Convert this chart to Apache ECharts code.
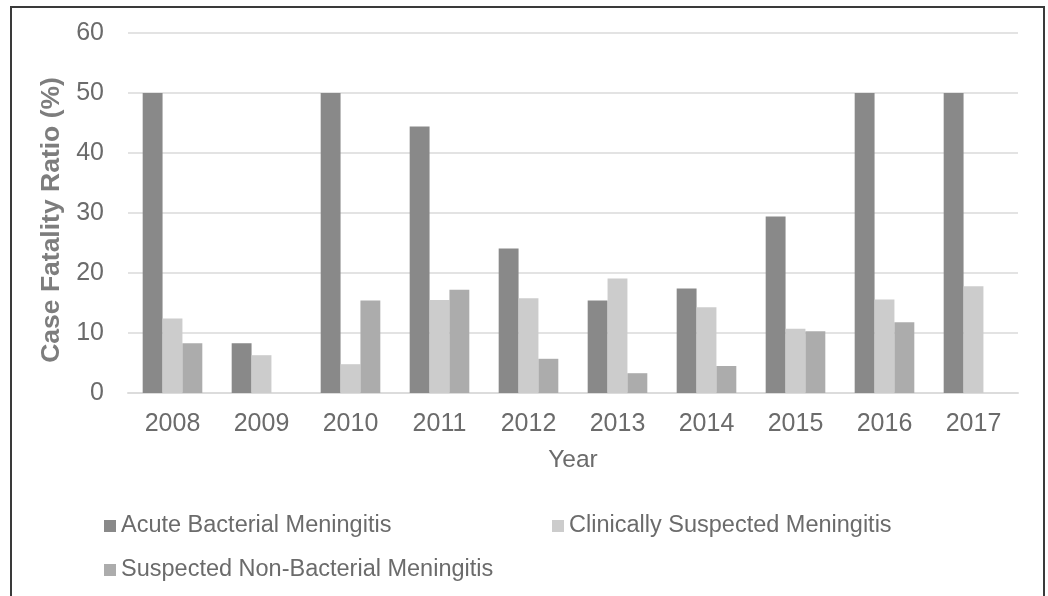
<!DOCTYPE html>
<html>
<head>
<meta charset="utf-8">
<script src="https://cdn.jsdelivr.net/npm/echarts@6/dist/echarts.min.js"></script>
<style>
  html, body { margin: 0; padding: 0; background: #ffffff; }
  #chart { width: 1048px; height: 596px; }
</style>
</head>
<body>
<div id="chart"></div>
<script>
// Case fatality ratio (%) by year and meningitis category
const years = ['2008', '2009', '2010', '2011', '2012', '2013', '2014', '2015', '2016', '2017'];
const acuteBacterial = [50, 8.3, 50, 44.4, 24.1, 15.4, 17.4, 29.4, 50, 50];
const clinicallySuspected = [12.4, 6.3, 4.8, 15.5, 15.8, 19.1, 14.3, 10.7, 15.6, 17.8];
const suspectedNonBacterial = [8.3, null, 15.4, 17.2, 5.7, 3.3, 4.5, 10.3, 11.8, null];
const seriesNames = ['Acute Bacterial Meningitis', 'Clinically Suspected Meningitis', 'Suspected Non-Bacterial Meningitis'];
const yTicks = { min: 0, max: 60, step: 10 };

const textColor = '#6b6b6b';
const font = 'Liberation Sans, Arial, sans-serif';

const chart = echarts.init(document.getElementById('chart'), null, { renderer: 'canvas' });

const legendBase = {
  icon: 'rect',
  padding: 0,
  itemWidth: 12,
  itemHeight: 12,
  itemGap: 0,
  textStyle: { color: textColor, fontSize: 23.5, fontFamily: font },
  selectedMode: false
};

chart.setOption({
  animation: false,
  backgroundColor: '#ffffff',
  color: ['#898989', '#cccccc', '#acacac'],
  grid: { left: 128, right: 30, top: 33, bottom: 203 },
  legend: [
    Object.assign({}, legendBase, { data: [seriesNames[0]], left: 104, top: 514 }),
    Object.assign({}, legendBase, { data: [seriesNames[1]], left: 552, top: 514 }),
    Object.assign({}, legendBase, { data: [seriesNames[2]], left: 104, top: 558 })
  ],
  xAxis: {
    type: 'category',
    data: years,
    name: 'Year',
    nameLocation: 'middle',
    nameGap: 55,
    nameTextStyle: { color: textColor, fontSize: 24.5, fontFamily: font },
    axisLine: { show: true, lineStyle: { color: '#dcdcdc', width: 2 } },
    axisTick: { show: false },
    axisLabel: { color: textColor, fontSize: 25, fontFamily: font, margin: 19 }
  },
  yAxis: {
    type: 'value',
    min: yTicks.min,
    max: yTicks.max,
    interval: yTicks.step,
    name: 'Case Fatality Ratio (%)',
    nameLocation: 'middle',
    nameGap: 62,
    nameTextStyle: { color: '#7d7d7d', fontSize: 26.5, fontWeight: 'bold', fontFamily: font, padding: [0, 14, 0, 0] },
    axisLine: { show: false },
    axisTick: { show: false },
    axisLabel: { color: textColor, fontSize: 25, fontFamily: font, margin: 24 },
    splitLine: { lineStyle: { color: '#e3e3e3', width: 2 } }
  },
  series: [
    { name: seriesNames[0], type: 'bar', data: acuteBacterial, barGap: '0%', barCategoryGap: '33%' },
    { name: seriesNames[1], type: 'bar', data: clinicallySuspected, barGap: '0%', barCategoryGap: '33%' },
    { name: seriesNames[2], type: 'bar', data: suspectedNonBacterial, barGap: '0%', barCategoryGap: '33%' }
  ],
  graphic: [
    {
      type: 'polyline',
      silent: true,
      shape: { points: [[11, 600], [11, 7], [1044, 7], [1044, 600]] },
      style: { stroke: '#3a3a3a', lineWidth: 2, fill: null }
    }
  ]
});
</script>
</body>
</html>
